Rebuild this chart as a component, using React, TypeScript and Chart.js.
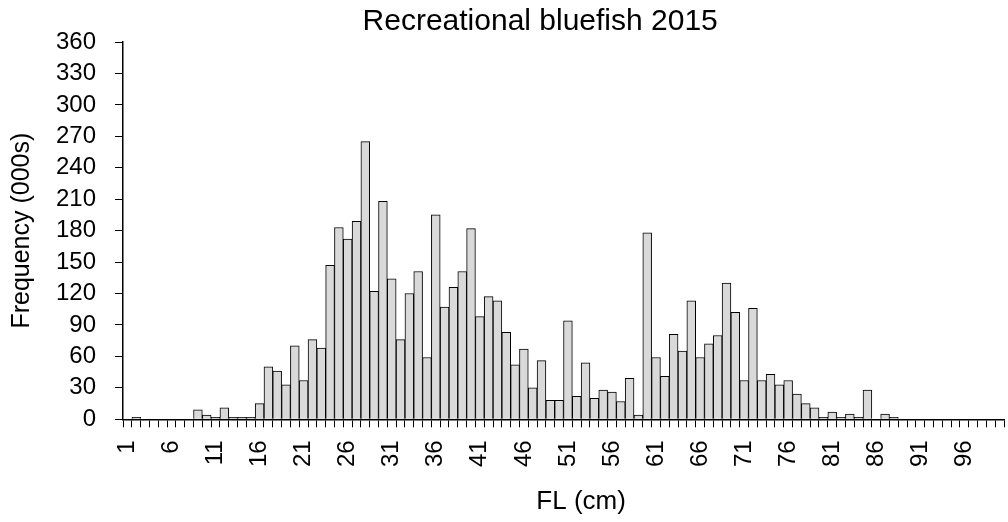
import React, { useEffect, useRef } from "react";
import { Chart, registerables } from "chart.js";

Chart.register(...registerables);

const TITLE = "Recreational bluefish 2015";
const X_TITLE = "FL (cm)";
const Y_TITLE = "Frequency (000s)";

const lengthsCm: string[] = Array.from({ length: 100 }, (_, i) => String(i + 1));

const frequency: number[] = [
  0, 2, 0, 0, 0, 0, 0, 0, 9, 4,
  2, 11, 2, 2, 2, 15, 50, 46, 33, 70,
  37, 76, 68, 147, 183, 172, 189, 265, 122, 208,
  134, 76, 120, 141, 59, 195, 107, 126, 141, 182,
  98, 117, 113, 83, 52, 67, 30, 56, 18, 18,
  94, 22, 54, 20, 28, 26, 17, 39, 4, 178,
  59, 41, 81, 65, 113, 59, 72, 80, 130, 102,
  37, 106, 37, 43, 33, 37, 24, 15, 11, 2,
  7, 2, 5, 2, 28, 0, 5, 2, 0, 0,
  0, 0, 0, 0, 0, 0, 0, 0, 0, 0,
];

const Y_MIN = 0;
const Y_MAX = 360;
const Y_STEP = 30;

const FONT = '"Liberation Sans", Arial, sans-serif';

const titlesPlugin = {
  id: "customTitles",
  afterDraw(chart: any) {
    const { ctx, chartArea } = chart;
    const w = chartArea.right - chartArea.left;
    ctx.save();
    ctx.fillStyle = "#000";
    ctx.textAlign = "center";
    ctx.textBaseline = "middle";
    ctx.font = `30px ${FONT}`;
    ctx.fillText(TITLE, chartArea.left + w * 0.4735, 22);
    ctx.font = `26px ${FONT}`;
    ctx.fillText(X_TITLE, chartArea.left + w * 0.52, chart.height - 20);
    ctx.restore();
  },
};

export default function App() {
  const ref = useRef<HTMLCanvasElement | null>(null);

  useEffect(() => {
    if (!ref.current) return;
    const chart = new Chart(ref.current, {
      type: "bar",
      data: {
        labels: lengthsCm,
        datasets: [
          {
            data: frequency,
            backgroundColor: "#d9d9d9",
            borderColor: "#000000",
            borderWidth: 1,
            categoryPercentage: 1,
            barPercentage: 1,
          },
        ],
      },
      options: {
        animation: false,
        responsive: false,
        devicePixelRatio: 1,
        layout: { padding: { top: 42, bottom: 42, left: 0, right: 4 } },
        plugins: {
          legend: { display: false },
          title: { display: false },
          tooltip: { enabled: false },
        },
        scales: {
          x: {
            afterFit: (scale: any) => {
              scale.paddingRight = 0;
              scale.paddingLeft = 0;
            },
            grid: {
              display: true,
              drawOnChartArea: false,
              drawTicks: true,
              tickLength: 8,
              color: "#000",
              lineWidth: 1,
              offset: true,
            },
            border: { display: true, color: "#000", width: 1.5 },
            ticks: {
              autoSkip: false,
              minRotation: 90,
              maxRotation: 90,
              padding: 13,
              color: "#000",
              font: { family: FONT, size: 24 },
              callback: (_v: any, i: number) => (i % 5 === 0 ? lengthsCm[i] : ""),
            },
          },
          y: {
            min: Y_MIN,
            max: Y_MAX,
            grid: {
              display: true,
              drawOnChartArea: false,
              drawTicks: true,
              tickLength: 8,
              color: "#000",
              lineWidth: 1,
            },
            border: { display: true, color: "#000", width: 1.5 },
            ticks: {
              autoSkip: false,
              stepSize: Y_STEP,
              padding: 19,
              color: "#000",
              font: { family: FONT, size: 24 },
            },
            title: {
              display: true,
              text: Y_TITLE,
              color: "#000",
              font: { family: FONT, size: 25 },
              padding: { top: 7, bottom: 0 },
            },
          },
        },
      },
      plugins: [titlesPlugin],
    });
    return () => chart.destroy();
  }, []);

  return (
    <div style={{ position: "absolute", left: 0, top: 0, width: 1008, height: 522, background: "#fff" }}>
      <canvas ref={ref} width={1008} height={522} />
    </div>
  );
}
